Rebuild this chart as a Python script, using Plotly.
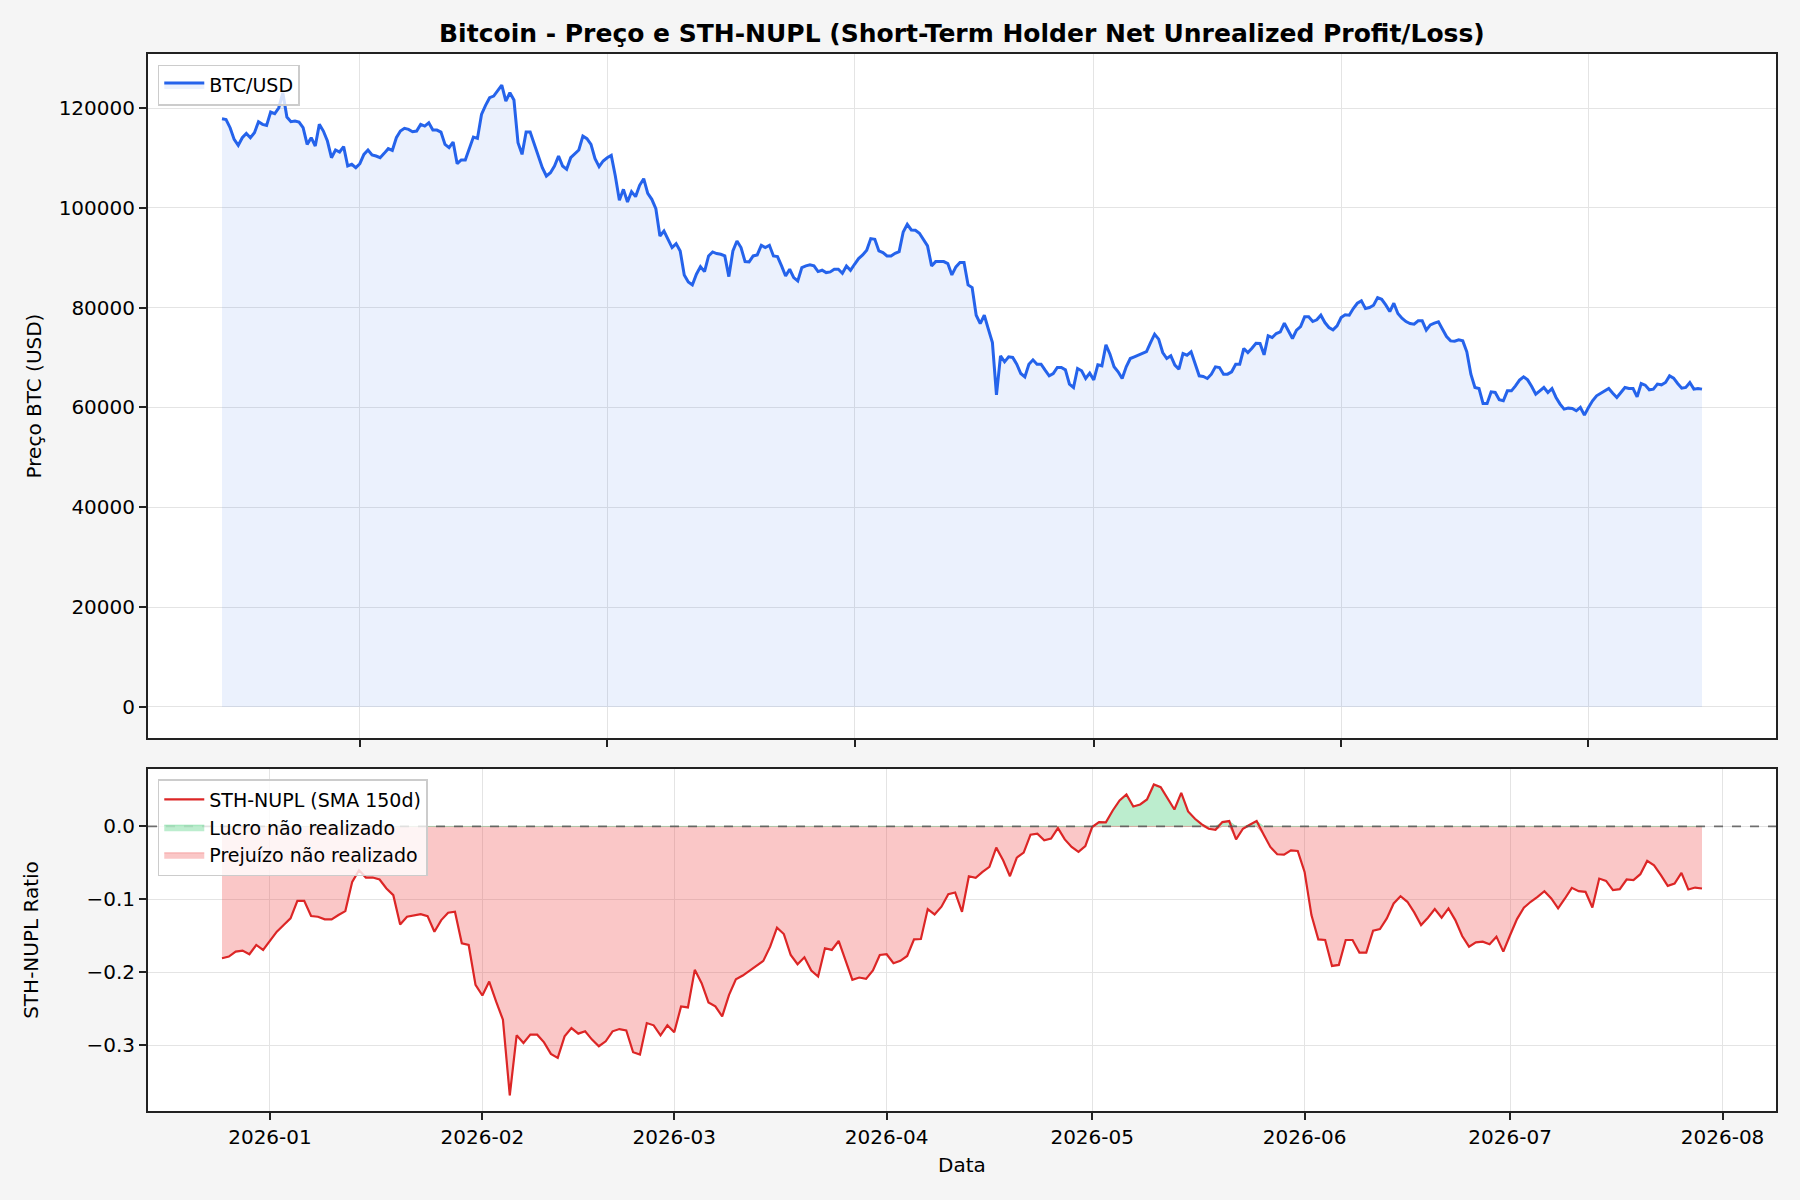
import numpy as np
import pandas as pd
import plotly.graph_objs as go

# daily BTC close (USD), 2025-07-29 .. 2026-07-29
start_date = "2025-07-29"
btc_price = [
    117850, 117700, 116050, 113700, 112500, 114050, 114900, 114050, 115050, 117250,
    116720, 116520, 119190, 118850, 120050, 123050, 118190, 117250, 117390, 117190,
    116050, 112710, 114050, 112380, 116720, 115380, 113380, 110040, 111580, 111180,
    112250, 108380, 108710, 108040, 108840, 110710, 111580, 110580, 110380, 110040,
    110910, 111850, 111510, 114050, 115380, 115920, 115720, 115250, 115380, 116720,
    116380, 117050, 115580, 115580, 115180, 112710, 112050, 113180, 108840, 109580,
    109580, 111710, 114180, 113910, 118720, 120520, 122060, 122390, 123390, 124590,
    121390, 123060, 121590, 113050, 110710, 115180, 115180, 112710, 110380, 108040,
    106370, 107040, 108380, 110380, 108380, 107710, 110040, 110910, 111580, 114380,
    113850, 112710, 109840, 108240, 109380, 110040, 110510, 106370,
    101500, 103700, 101170, 103240, 102240, 104510, 105840, 102900, 101700, 99830,
    94360, 95360, 93700, 92030, 92830, 91360, 86560, 85150, 84550, 86690,
    88220, 87220, 90360, 91160, 90830, 90690, 90360, 86220, 91360, 93360,
    92030, 89220, 89160, 90360, 90560, 92490, 92030, 92490, 90360, 90230,
    88360, 86350, 87690, 86020, 85350, 88020, 88360, 88560, 88360, 87220,
    87490, 87020, 87160, 87690, 87690, 86890, 88360, 87490, 88690, 89820,
    90560, 91490, 93830, 93700, 91360, 91030, 90360, 90360, 90890, 91230,
    95160, 96700, 95560, 95500, 94900, 93560, 92360, 88360, 89220, 89220,
    89220, 88820, 86560, 88160, 89030, 89030, 84550, 84020,
    78480, 76810, 78480, 75680, 73010, 62530, 70340, 69140, 70140, 70010,
    68670, 66800, 66130, 68670, 69540, 68670, 68670, 67470, 66340, 66800,
    68000, 68000, 67540, 64670, 64000, 67800, 67340, 65800, 66870, 65530,
    68540, 68340, 72540, 70670, 68140, 67140, 65800, 68140, 69800, 70140,
    70470, 70870, 71210, 73010, 74680, 73680, 71010, 69800, 70340, 68470,
    67670, 70810, 70470, 71140, 68670, 66340, 66200, 65800, 66670, 68140,
    68000, 66670, 66670, 67140, 68670, 68670, 71810, 71010, 71870, 72870,
    72810, 70540, 74340, 74010, 74810, 75140, 76880, 75340, 73810, 75480,
    76210, 78150, 78150, 77210, 77550, 78480, 77010, 76010, 75540, 76340,
    78010, 78550, 78480, 79810, 80880, 81350, 79810, 80010,
    80480, 82020, 81680, 80550, 79210, 80880, 78810, 77880, 77210, 76810,
    76680, 77350, 77350, 75480, 76540, 76880, 77150, 75680, 74210, 73340,
    73270, 73540, 73340, 71140, 66670, 64000, 63800, 60800, 60800, 63130,
    63000, 61530, 61330, 63330, 63330, 64330, 65470, 66130, 65530, 64200,
    62660, 63330, 64000, 63000, 63800, 62000, 60660, 59660, 59860, 59790,
    59330, 60000, 58460, 60000, 61330, 62330, 62860, 63330, 63800, 62860,
    62000, 63000, 64000, 63800, 63800, 62130, 64800, 64470, 63530, 63670,
    64670, 64530, 65000, 66330, 65870, 64800, 63870, 64000, 65000, 63670,
    63800, 63670,
]

# STH-NUPL (SMA 150d), last 217 days of the price series
sth_nupl = [
    -0.1807, -0.1784, -0.1716, -0.1702, -0.1752, -0.1625, -0.1693, -0.1570, -0.1443, -0.1352,
    -0.1261, -0.1020, -0.1020, -0.1229, -0.1238, -0.1274, -0.1274, -0.1215, -0.1161, -0.0760,
    -0.0601, -0.0701, -0.0701, -0.0728, -0.0851, -0.0942, -0.1343, -0.1238, -0.1215, -0.1202,
    -0.1229, -0.1443, -0.1284, -0.1183, -0.1170, -0.1602, -0.1625, -0.2171, -0.2317, -0.2126,
    -0.2399, -0.2649, -0.3687, -0.2863, -0.2968, -0.2854, -0.2854, -0.2959, -0.3118, -0.3172,
    -0.2877, -0.2763, -0.2840, -0.2808, -0.2922, -0.3013, -0.2945, -0.2808, -0.2777, -0.2795,
    -0.3095, -0.3127, -0.2695, -0.2726, -0.2863, -0.2726, -0.2822, -0.2467, -0.2481, -0.1966,
    -0.2148, -0.2412, -0.2467,
    -0.2604, -0.2308, -0.2094, -0.2044, -0.1980, -0.1907, -0.1843, -0.1648, -0.1388, -0.1475,
    -0.1762, -0.1889, -0.1793, -0.1975, -0.2057, -0.1670, -0.1693, -0.1570, -0.1839, -0.2103,
    -0.2071, -0.2089, -0.1975, -0.1762, -0.1752, -0.1875, -0.1843, -0.1775, -0.1548, -0.1543,
    -0.1133, -0.1206, -0.1101, -0.0929, -0.0906, -0.1170, -0.0683, -0.0706, -0.0624, -0.0555,
    -0.0291, -0.0464, -0.0683, -0.0428, -0.0360, -0.0114, -0.0100, -0.0191, -0.0168, -0.0023,
    -0.0178, -0.0282, -0.0350, -0.0269, -0.0009, 0.0059, 0.0055, 0.0218, 0.0355, 0.0437,
    0.0273, 0.0300, 0.0369, 0.0574, 0.0537, 0.0387, 0.0232, 0.0460, 0.0205, 0.0105,
    0.0027, -0.0032, -0.0046,
    0.0059, 0.0073, -0.0178, -0.0032, 0.0023, 0.0073, -0.0109, -0.0282, -0.0382, -0.0387,
    -0.0328, -0.0337, -0.0624, -0.1215, -0.1548, -0.1557, -0.1912, -0.1898, -0.1557, -0.1557,
    -0.1730, -0.1730, -0.1429, -0.1406, -0.1261, -0.1056, -0.0956, -0.1033, -0.1179, -0.1352,
    -0.1252, -0.1133, -0.1252, -0.1124, -0.1284, -0.1502, -0.1648, -0.1589, -0.1579, -0.1616,
    -0.1511, -0.1716, -0.1488, -0.1270, -0.1115, -0.1033, -0.0965, -0.0888, -0.0988, -0.1124,
    -0.0988, -0.0842, -0.0888, -0.0897, -0.1111, -0.0715, -0.0746, -0.0874, -0.0860, -0.0728,
    -0.0737, -0.0655, -0.0473, -0.0533, -0.0669, -0.0815, -0.0783, -0.0637, -0.0865, -0.0838,
    -0.0851,
]

dates = pd.date_range(start_date, periods=len(btc_price), freq="D")
nupl_dates = dates[-len(sth_nupl):]
nupl = np.array(sth_nupl)

FONT = "DejaVu Sans"
AXIS_COL = "#222222"
GRID_COL = "#e4e4e4"
PAPER_BG = "#f5f5f5"

def pad_range(d):
    span = d[-1] - d[0]
    return [d[0] - span * 0.05, d[-1] + span * 0.05]

#declare figure
fig = go.Figure()

# Price with light fill underneath
fig.add_trace(go.Scatter(x=dates, y=btc_price, mode="lines", name="BTC/USD",
                         line=dict(color="#2563eb", width=3),
                         fill="tozeroy", fillcolor="rgba(37,99,235,0.09)",
                         xaxis="x", yaxis="y", legend="legend"))

# NUPL fills (profit / loss)
fig.add_trace(go.Scatter(x=nupl_dates, y=np.maximum(nupl, 0), mode="lines",
                         name="Lucro não realizado",
                         line=dict(color="rgba(34,197,94,0.35)", width=1),
                         fill="tozeroy", fillcolor="rgba(34,197,94,0.3)",
                         xaxis="x2", yaxis="y2", legend="legend2", legendrank=2))
fig.add_trace(go.Scatter(x=nupl_dates, y=np.minimum(nupl, 0), mode="lines",
                         name="Prejuízo não realizado",
                         line=dict(color="rgba(239,68,68,0.35)", width=1),
                         fill="tozeroy", fillcolor="rgba(239,68,68,0.3)",
                         xaxis="x2", yaxis="y2", legend="legend2", legendrank=3))
fig.add_trace(go.Scatter(x=nupl_dates, y=nupl, mode="lines",
                         name="STH-NUPL (SMA 150d)",
                         line=dict(color="#dc2626", width=2.2),
                         xaxis="x2", yaxis="y2", legend="legend2", legendrank=1))

# zero line
fig.add_shape(type="line", xref="x2 domain", yref="y2", x0=0, x1=1, y0=0, y1=0,
              line=dict(color="rgba(80,80,80,0.8)", width=1.6, dash="dash"), layer="above")

axis_common = dict(showline=True, mirror=True, linecolor=AXIS_COL, linewidth=2,
                   ticks="outside", ticklen=7, tickwidth=1.6, tickcolor=AXIS_COL,
                   showgrid=True, gridcolor=GRID_COL, gridwidth=1.2, zeroline=False,
                   tickfont=dict(family=FONT, size=20, color="black"))

pmax = max(btc_price)
nmin, nmax = nupl.min(), nupl.max()
nspan = nmax - nmin

fig.update_layout(
    width=1800, height=1200,
    paper_bgcolor=PAPER_BG, plot_bgcolor="white",
    margin=dict(l=148, r=24, t=54, b=89),
    font=dict(family=FONT, color="black"),
    title=dict(text="<b>Bitcoin - Preço e STH-NUPL (Short-Term Holder Net Unrealized Profit/Loss)</b>",
               x=0.5344, xanchor="center", y=0.9725, yanchor="middle",
               font=dict(family=FONT, size=25, color="black")),
    xaxis=dict(domain=[0, 1], anchor="y", type="date", range=pad_range(dates),
               tick0="2025-09-01", dtick="M2", showticklabels=False, **axis_common),
    yaxis=dict(domain=[0.3529, 1], anchor="x", range=[-0.05 * pmax, 1.05 * pmax],
               dtick=20000, tickformat="d",
               title=dict(text="Preço BTC (USD)", standoff=12,
                          font=dict(family=FONT, size=20)), **axis_common),
    xaxis2=dict(domain=[0, 1], anchor="y2", type="date", range=pad_range(nupl_dates),
                tick0="2026-01-01", dtick="M1", tickformat="%Y-%m",
                title=dict(text="Data", standoff=10, font=dict(family=FONT, size=20)),
                **axis_common),
    yaxis2=dict(domain=[0, 0.3236], anchor="x2",
                range=[nmin - 0.05 * nspan, nmax + 0.05 * nspan],
                dtick=0.1, tickformat=".1f",
                title=dict(text="STH-NUPL Ratio", standoff=42,
                           font=dict(family=FONT, size=20)), **axis_common),
    legend=dict(x=0.006, y=0.99, xanchor="left", yanchor="top",
                bgcolor="rgba(255,255,255,0.8)", bordercolor="#cccccc", borderwidth=1.5,
                itemwidth=40, font=dict(family=FONT, size=19)),
    legend2=dict(x=0.006, y=0.314, xanchor="left", yanchor="top",
                 bgcolor="rgba(255,255,255,0.8)", bordercolor="#cccccc", borderwidth=1.5,
                 itemwidth=40, font=dict(family=FONT, size=19), traceorder="normal"),
    showlegend=True,
)

# page without the default body margin, same grey as the figure; no modebar
fig.write_html("out.html", config={"displayModeBar": False},
               post_script="document.body.style.margin='0';"
                           "document.body.style.backgroundColor='%s';" % PAPER_BG)
